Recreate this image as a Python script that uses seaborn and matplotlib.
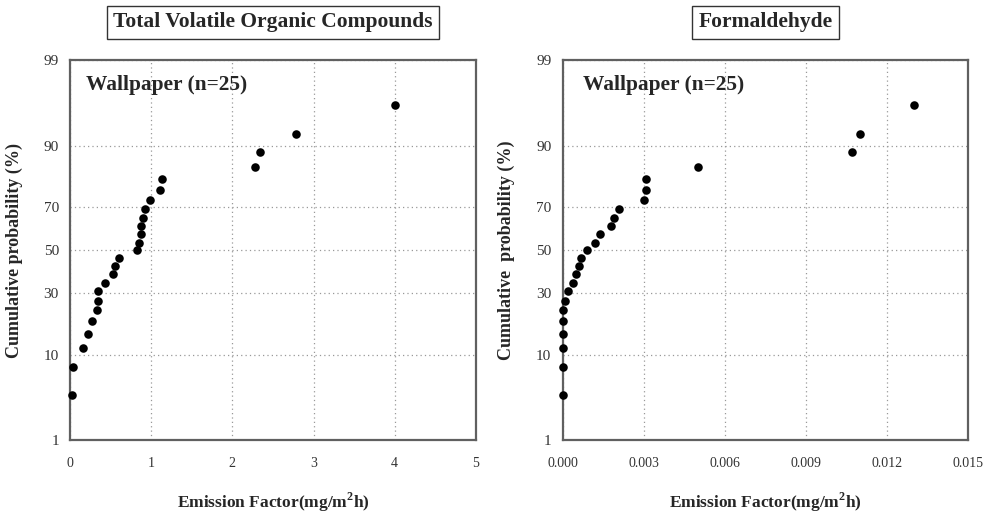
import numpy as np
import pandas as pd
import seaborn as sns
import matplotlib
matplotlib.use("Agg")
import matplotlib.pyplot as plt
from statistics import NormalDist

# cumulative probability (%) for the 25 ranked samples
cum_prob = [3.8, 7.7, 11.5, 15.4, 19.2, 23.1, 26.9, 30.8, 34.6, 38.5, 42.3, 46.2, 50.0,
            53.8, 57.7, 61.5, 65.4, 69.2, 73.1, 76.9, 80.8, 84.6, 88.5, 92.3, 96.2]

# emission factors (mg/m2h), sorted
tvoc = [0.03, 0.04, 0.16, 0.22, 0.27, 0.33, 0.34, 0.35, 0.43, 0.53, 0.56, 0.60, 0.82,
        0.85, 0.87, 0.88, 0.90, 0.92, 0.98, 1.11, 1.13, 2.28, 2.34, 2.79, 4.00]
hcho = [0.0, 0.0, 0.0, 0.0, 0.0, 0.0, 0.0001, 0.0002, 0.0004, 0.0005, 0.0006, 0.0007, 0.0009,
        0.0012, 0.0014, 0.0018, 0.0019, 0.0021, 0.0030, 0.0031, 0.0031, 0.0050, 0.0107, 0.0110, 0.0130]

titles = ["Total Volatile Organic Compounds", "Formaldehyde"]
ylabels = ["Cumulative probability (%)", "Cumulative  probability (%)"]
prob_ticks = [1, 10, 30, 50, 70, 90, 99]

sns.set_style("white")
plt.rcParams['font.family'] = ['Liberation Serif', 'DejaVu Serif']
plt.rcParams['mathtext.fontset'] = 'custom'
plt.rcParams['mathtext.bf'] = 'Liberation Serif:bold'
plt.rcParams['mathtext.rm'] = 'Liberation Serif'

nd = NormalDist()


def _p2z(p):
    if not np.isfinite(p):
        return np.nan
    return nd.inv_cdf(min(max(p / 100.0, 1e-9), 1 - 1e-9))


def _z2p(z):
    if not np.isfinite(z):
        return np.nan
    return nd.cdf(z) * 100.0


_ppf = np.vectorize(_p2z, otypes=[float])
_cdf = np.vectorize(_z2p, otypes=[float])


def fwd(p):
    return _ppf(np.asarray(p, dtype=float))


def inv(z):
    return _cdf(np.asarray(z, dtype=float))


fig = plt.figure(figsize=(9.9, 5.14), dpi=100)
ax1 = fig.add_axes([0.0707, 0.143, 0.410, 0.740])
ax2 = fig.add_axes([0.5682, 0.143, 0.4096, 0.740])

df1 = pd.DataFrame({"ef": tvoc, "p": cum_prob})
df2 = pd.DataFrame({"ef": hcho, "p": cum_prob})

for ax, df, xmax, xstep, fmt, title, ylab, tx in [
        (ax1, df1, 5, 1, "%d", titles[0], ylabels[0], 0.039),
        (ax2, df2, 0.015, 0.003, "%.3f", titles[1], ylabels[1], 0.051)]:
    sns.scatterplot(data=df, x="ef", y="p", ax=ax, color="black", s=38,
                    edgecolor="black", linewidth=0, zorder=3, clip_on=False)
    ax.set_yscale("function", functions=(fwd, inv))
    ax.set_ylim(1, 99)
    ax.set_xlim(0, xmax)
    ax.set_yticks(prob_ticks)
    ax.set_yticklabels([str(t) for t in prob_ticks])
    ax.set_xticks(np.arange(0, xmax + xstep / 2, xstep))
    ax.xaxis.set_major_formatter(matplotlib.ticker.FormatStrFormatter(fmt))
    ax.minorticks_off()
    ax.grid(True, linestyle=(0, (1, 2.5)), color="#999999", linewidth=0.9)
    for sp in ax.spines.values():
        sp.set_color("#606060")
        sp.set_linewidth(1.6)
    ax.tick_params(axis="both", direction="inout", length=6, width=1.2,
                   color="#606060", labelcolor="#333333")
    ax.tick_params(axis="x", labelsize=10, pad=9)
    ax.tick_params(axis="y", labelsize=11, pad=5)
    ax.set_xlabel(r"Emission Factor(mg/m$^{\mathbf{2}}$h)", fontsize=12.5,
                  fontweight="bold", labelpad=15)
    ax.set_ylabel(ylab, fontsize=13, fontweight="bold")
    ax.yaxis.set_label_coords(-0.117, 0.5)
    ax.text(tx, 0.934, "Wallpaper (n=25)", transform=ax.transAxes, fontsize=15.4,
            fontweight="bold", va="center", ha="left")
    ax.text(0.5, 1.10, title, transform=ax.transAxes, fontsize=15.5, fontweight="bold",
            ha="center", va="center",
            bbox=dict(boxstyle="square,pad=0.3", fc="white", ec="#333333", lw=1))

fig.savefig("out.png", dpi=100)
